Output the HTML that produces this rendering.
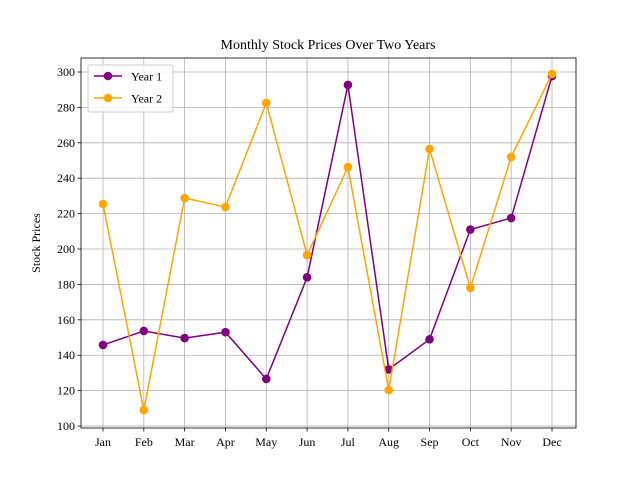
<!DOCTYPE html>
<html><head><meta charset="utf-8"><style>
body{margin:0;background:#fff;}
svg{font-family:"Liberation Serif","DejaVu Serif",serif;}
</style></head><body>
<svg id="chart" width="640" height="480"></svg>
<script>
const months=["Jan","Feb","Mar","Apr","May","Jun","Jul","Aug","Sep","Oct","Nov","Dec"];
const year1=[145.8,153.7,149.7,153,126.6,184,292.7,132,149,211,217.5,297.7];
const year2=[225.4,109,228.8,223.7,282.5,196.6,246.3,120.3,256.5,178,252,298.9];
const yTicks=[100,120,140,160,180,200,220,240,260,280,300];
const L=81,R=576,T=58,B=428,yMin=98.9,yMax=307.9;
const x=i=>103+i*(552-103)/11;
const y=v=>B-(v-yMin)/(yMax-yMin)*(B-T);
const NS="http://www.w3.org/2000/svg";
const svg=document.getElementById('chart');
function mk(t,a,p){const e=document.createElementNS(NS,t);for(const k in a)e.setAttribute(k,a[k]);(p||svg).appendChild(e);return e;}
// grid
const grid=mk('g',{});


months.forEach((m,i)=>{mk('line',{x1:x(i),x2:x(i),y1:T,y2:B,stroke:'#b0b0b0','stroke-width':0.8},grid);
 mk('line',{x1:x(i),x2:x(i),y1:B,y2:B+3.5,stroke:'#000','stroke-width':0.8});
 const t=mk('text',{x:x(i),y:B+18,'text-anchor':'middle','font-size':12});t.textContent=m;
 
 });
yTicks.forEach(v=>{mk('line',{x1:L,x2:R,y1:y(v),y2:y(v),stroke:'#b0b0b0','stroke-width':0.8},grid);
 mk('line',{x1:L-3.5,x2:L,y1:y(v),y2:y(v),stroke:'#000','stroke-width':0.8});
 const t=mk('text',{x:L-6,y:y(v)+4,'text-anchor':'end','font-size':12});t.textContent=v;
 
 });
function series(data,color,name){
 const g=mk('g',{});
 
 
 mk('polyline',{points:data.map((v,i)=>x(i)+','+y(v)).join(' '),fill:'none',stroke:color,'stroke-width':1.5},g);
 data.forEach((v,i)=>{const c=mk('circle',{cx:x(i),cy:y(v),r:4.3,fill:color},g);
  
  });
}
series(year1,'#800080','series-year-1');
series(year2,'#ffa500','series-year-2');
mk('rect',{x:L,y:T,width:R-L,height:B-T,fill:'none',stroke:'#000','stroke-width':0.8});
</script>
<svg width="640" height="480" style="position:absolute;left:0;top:0">
<text x="328" y="49" text-anchor="middle" font-size="14">Monthly Stock Prices Over Two Years</text>
<text transform="translate(40,243) rotate(-90)" text-anchor="middle" font-size="12">Stock Prices</text>
<g>
<rect x="88" y="65" width="85" height="47" rx="2" fill="#fff" fill-opacity="0.8" stroke="#ccc"/>
<g><line x1="94" x2="122" y1="76" y2="76" stroke="#800080" stroke-width="1.5"/><circle cx="108" cy="76" r="4.3" fill="#800080"/><text x="131" y="80.5" font-size="12">Year 1</text></g>
<g><line x1="94" x2="122" y1="98" y2="98" stroke="#ffa500" stroke-width="1.5"/><circle cx="108" cy="98" r="4.3" fill="#ffa500"/><text x="131" y="102.5" font-size="12">Year 2</text></g>
</g>
</svg>
</body></html>
